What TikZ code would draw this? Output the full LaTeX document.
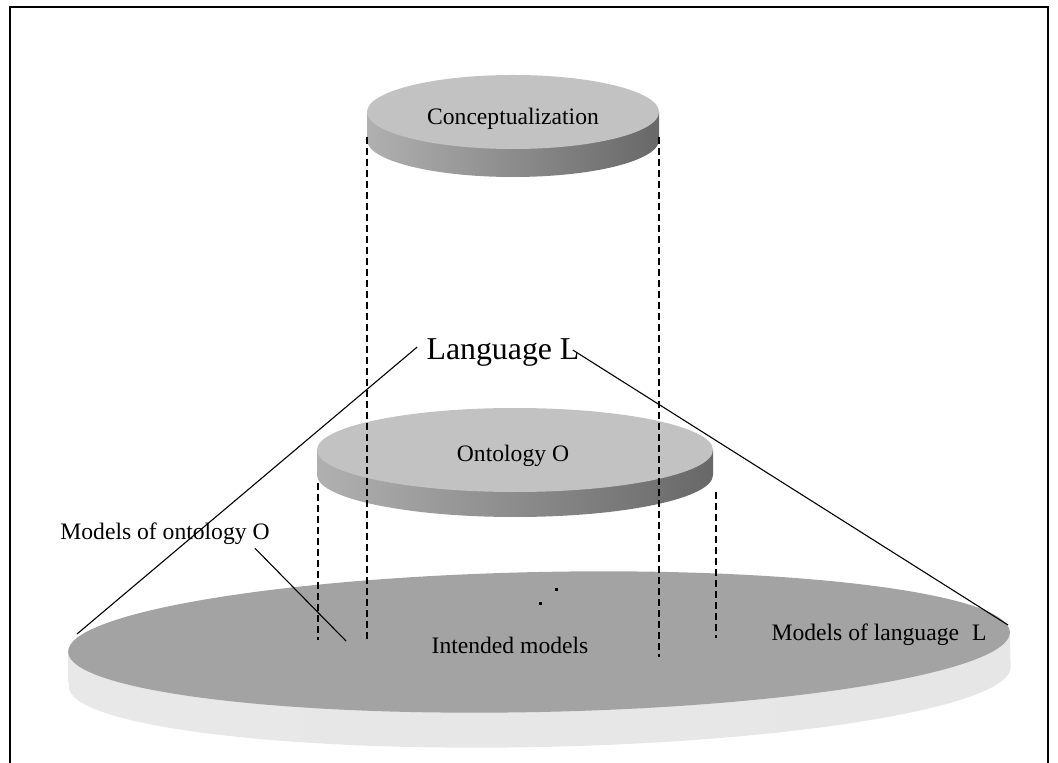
\documentclass[tikz,border=0pt]{standalone}
\usepackage{fontspec}
\setmainfont{Liberation Serif}
\usetikzlibrary{calc}

\definecolor{capface}{HTML}{C2C2C2}
\definecolor{capsideA}{HTML}{B0B0B0}
\definecolor{capsideB}{HTML}{686868}
\definecolor{baseface}{HTML}{A3A3A3}
\definecolor{basesideA}{HTML}{E8E8E8}
\definecolor{basesideB}{HTML}{BEBEBE}
\definecolor{basesideC}{HTML}{E6E6E6}

% cx, cy, rx, ry, thickness, face colour, side shading
\newcommand{\drawdisc}[7]{%
  \shade[#7] (#1-#3,#2) -- (#1-#3,#2+#5)
    arc[start angle=180, end angle=0, x radius=#3, y radius=#4]
    -- (#1+#3,#2) -- cycle;
  \fill[#6] (#1,#2) ellipse[x radius=#3, y radius=#4];
}

\tikzset{
  lbl/.style={inner sep=0pt, font=\fontsize{11.8}{14}\selectfont},
  guide/.style={line width=0.7pt, dash pattern=on 3.5pt off 2pt},
  leader/.style={line width=0.55pt},
}

\begin{document}
\begin{tikzpicture}[x=0.5pt,y=-0.5pt]
	\useasboundingbox (0,0) rectangle (1058,763);
	\draw[line width=1pt] (10,780) -- (10,7) -- (1048,7) -- (1048,780);

	% the three discs
	\begin{scope}[rotate around={1.2:(539,642)}]
		\drawdisc{539}{642}{471}{70}{35}{baseface}{left color=basesideA, middle color=basesideB, right color=basesideC}
	\end{scope}
	\drawdisc{515}{450}{198}{42}{25}{capface}{left color=capsideA, right color=capsideB}
	\drawdisc{513}{112}{146}{37}{28}{capface}{left color=capsideA, right color=capsideB}

	\fill (554.5,587.5) rectangle +(3,3);
	\fill (538.5,601.5) rectangle +(3,3);

	% labels
	\node[lbl] (concept) at (513,119) {Conceptualization};
	\node[lbl, font=\fontsize{15.9}{19}\selectfont] (lang) at (503,353) {Language L};
	\node[lbl] (onto) at (513,456) {Ontology O};
	\node[lbl] (modO) at (165,534) {Models of ontology O};
	\node[lbl] (intended) at (510,645) {Intended models};
	\node[lbl] (modL) at (879,635) {Models of language\hspace{0.3em} L};

	% projections
	\coordinate (cL) at (367,137);
	\coordinate (cR) at (659,137);
	\coordinate (cLb) at (367,640);
	\coordinate (cRb) at (659,657);
	\coordinate (oL) at (318,483);
	\coordinate (oR) at (716,492);
	\coordinate (oLb) at (318,640);
	\coordinate (oRb) at (716,638);
	\draw[guide] (cL) -- (cLb);
	\draw[guide] (cR) -- (cRb);
	\draw[guide] (oL) -- (oLb);
	\draw[guide] (oR) -- (oRb);

	% leaders
	\coordinate (baseW) at (77,634);
	\coordinate (baseE) at (1008,625);
	\coordinate (tipO) at (346,641);
	\draw[leader] ($(lang.west)+(-9,-6)$) -- (baseW);
	\draw[leader] ($(lang.east)+(-7,-3)$) -- (baseE);
	\draw[leader] ($(modO.south east)+(-15,3)$) -- (tipO);
\end{tikzpicture}
\end{document}
